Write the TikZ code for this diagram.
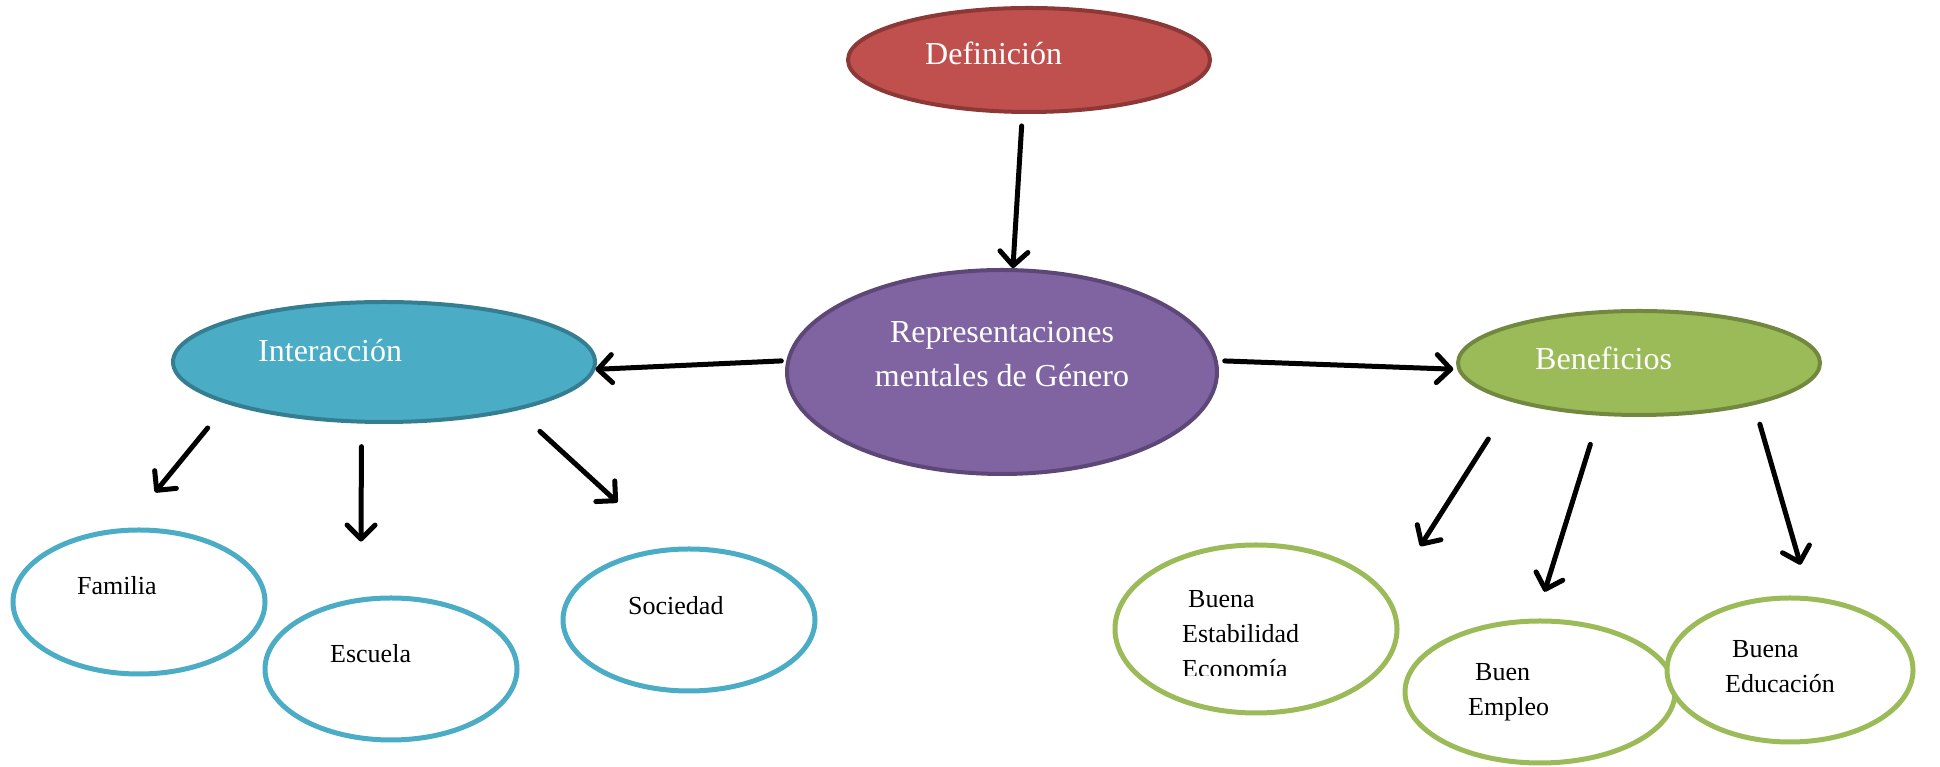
\documentclass[tikz,border=0pt]{standalone}
\usepackage{fontspec}
\setmainfont{Liberation Serif}
\usetikzlibrary{shapes.geometric, arrows.meta}

\definecolor{defred}{HTML}{C0504D}
\definecolor{defredline}{HTML}{8C3836}
\definecolor{reppurple}{HTML}{8064A2}
\definecolor{reppurpleline}{HTML}{5C4776}
\definecolor{interblue}{HTML}{4BACC6}
\definecolor{interblueline}{HTML}{357D91}
\definecolor{bengreen}{HTML}{9BBB59}
\definecolor{bengreenline}{HTML}{71893F}

\begin{document}
\begin{tikzpicture}[x=1pt, y=1pt,
	bubble/.style={ellipse, line width=4pt, inner sep=0pt},
	leaf/.style={ellipse, line width=5pt, inner sep=0pt, fill=white},
	bigtxt/.style={text=white, inner sep=0pt, font=\fontsize{32}{44}\selectfont},
	smalltxt/.style={inner sep=0pt, align=left, font=\fontsize{26}{35}\selectfont},
	arrow/.style={line width=5pt, line cap=round, -{Straight Barb[round, length=14pt, width=28pt]}}]
		
		\fill[white] (0,0) rectangle (1940,767);
		\useasboundingbox (0,0) rectangle (1940,767);
		
		% centre and its three branches
		\node[bubble, fill=defred, draw=defredline, minimum width=362pt, minimum height=104pt] (def) at (1029,707) {};
		\node[bubble, fill=reppurple, draw=reppurpleline, minimum width=430pt, minimum height=204pt] (rep) at (1002,395) {};
		\node[bubble, fill=interblue, draw=interblueline, minimum width=422pt, minimum height=120pt] (inter) at (384,405) {};
		\node[bubble, fill=bengreen, draw=bengreenline, minimum width=362pt, minimum height=104pt] (ben) at (1639,404) {};
		
		% leaves
		\node[leaf, draw=interblue, minimum width=252pt, minimum height=144pt] (fam) at (139,165) {};
		\node[leaf, draw=interblue, minimum width=252pt, minimum height=142pt] (esc) at (391,98) {};
		\node[leaf, draw=interblue, minimum width=252pt, minimum height=142pt] (soc) at (689,147) {};
		\node[leaf, draw=bengreen, minimum width=282pt, minimum height=168pt] (estab) at (1256,138) {};
		\node[leaf, draw=bengreen, minimum width=270pt, minimum height=142pt] (empleo) at (1540,75) {};
		\node[leaf, draw=bengreen, minimum width=246pt, minimum height=144pt] (educ) at (1790,97) {};
		
		% texts
		\node[bigtxt, anchor=base west] (deftxt) at (925,702) {Definición};
		\node[bigtxt, anchor=north, align=center] (reptxt) at (1002,446) {Representaciones\\mentales de Género};
		\node[bigtxt, anchor=base west] (intertxt) at (258,405) {Interacción};
		\node[bigtxt, anchor=base west] (bentxt) at (1535,397) {Beneficios};
		\node[smalltxt, anchor=base west] (famtxt) at (77,172) {Familia};
		\node[smalltxt, anchor=base west] (esctxt) at (330,104) {Escuela};
		\node[smalltxt, anchor=base west] (soctxt) at (628,152) {Sociedad};
		\begin{scope}
			\clip (1150,91) rectangle (1350,200);
			\node[smalltxt, anchor=north west] (estabtxt) at (1182,177) {\hspace*{6pt}Buena\\Estabilidad\\Economía};
		\end{scope}
		\node[smalltxt, anchor=north west] (empleotxt) at (1468,104) {\hspace*{7pt}Buen\\Empleo};
		\node[smalltxt, anchor=north west] (eductxt) at (1725,127) {\hspace*{7pt}Buena\\Educación};
		
		\path[every edge/.append style={arrow}]
		(def.263) edge[shorten <=12pt] (rep.84)
		(rep.177) edge[shorten <=5pt] (inter.358)
		(rep.3) edge[shorten <=7pt, shorten >=4pt] (ben.182)
		(inter.195) edge[shorten <=31pt, shorten >=46pt] (fam.100)
		(inter.250) edge[shorten <=23pt, shorten >=56pt] (esc.113)
		(inter.340) edge[shorten <=31pt, shorten >=67pt] (soc.107)
		(ben.197) edge[shorten <=44pt, shorten >=59pt] (estab.14)
		(ben.233) edge[shorten <=30pt, shorten >=28pt] (empleo.93)
		(ben.340) edge[shorten <=20pt, shorten >=33pt] (educ.75);
		
\end{tikzpicture}
\end{document}
